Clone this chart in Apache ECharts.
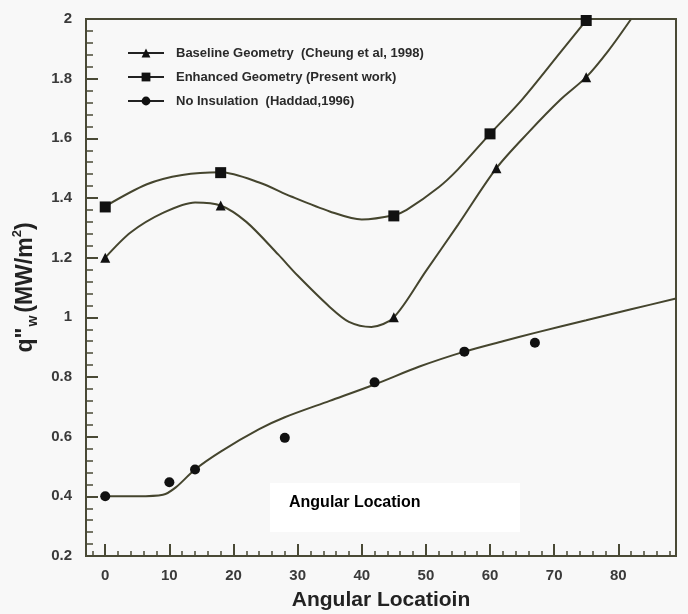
<!DOCTYPE html>
<html>
<head>
<meta charset="utf-8">
<script src="https://cdn.jsdelivr.net/npm/echarts@6/dist/echarts.min.js"></script>
<style>
  html, body { margin: 0; padding: 0; background: #f8f8f8; }
  #chart { width: 688px; height: 614px; }
</style>
</head>
<body>
<div id="chart"></div>
<script>
// 图例名称
const seriesNames = [
  'Baseline Geometry  (Cheung et al, 1998)',
  'Enhanced Geometry (Present work)',
  'No Insulation  (Haddad,1996)'
]

// 标记点
const baselineX = [0, 18, 45, 61, 75]
const baselineY = [1.2, 1.375, 1.0, 1.5, 1.805]
const enhancedX = [0, 18, 45, 60, 75]
const enhancedY = [1.37, 1.485, 1.34, 1.615, 1.995]
const noInsX = [0, 10, 14, 28, 42, 56, 67]
const noInsY = [0.4, 0.447, 0.49, 0.596, 0.782, 0.885, 0.915]

// 拟合曲线（沿曲线读图）
const baselineCurveX = [0, 4, 9, 14, 18, 22, 27, 30, 35, 38, 41.5, 45, 50, 55, 61, 66, 71, 75, 78.5, 82]
const baselineCurveY = [1.2, 1.285, 1.35, 1.385, 1.375, 1.32, 1.21, 1.14, 1.035, 0.985, 0.968, 1.0, 1.155, 1.31, 1.5, 1.62, 1.73, 1.805, 1.895, 2.0]
const enhancedCurveX = [0, 6.5, 12, 18, 24, 29, 35, 40, 45, 47, 52, 55, 60, 65, 71, 75]
const enhancedCurveY = [1.372, 1.446, 1.477, 1.486, 1.452, 1.405, 1.355, 1.328, 1.342, 1.36, 1.436, 1.496, 1.615, 1.73, 1.889, 1.995]
const noInsCurveX = [0, 5, 9, 11, 14, 18, 24, 28, 35, 42, 49, 56, 62, 67, 75, 82, 89]
const noInsCurveY = [0.4, 0.4, 0.405, 0.43, 0.49, 0.55, 0.625, 0.665, 0.72, 0.775, 0.835, 0.885, 0.92, 0.948, 0.99, 1.027, 1.063]

const pairs = (xs, ys) => xs.map((x, i) => [x, ys[i]])

const axisColor = '#4a4a36'
const curveColor = '#45452e'
const markColor = '#111'
const font = 'Liberation Sans, Arial, sans-serif'

const myChart = echarts.init(document.getElementById('chart'))

const curve = (xs, ys) => ({
  type: 'line',
  data: pairs(xs, ys),
  symbol: 'none',
  smooth: 0.3,
  lineStyle: { color: curveColor, width: 2 },
  silent: true,
  z: 2
})

const marks = (name, xs, ys, symbol, size) => ({
  name,
  type: 'line',
  data: pairs(xs, ys),
  symbol,
  symbolSize: size,
  showSymbol: true,
  itemStyle: { color: markColor },
  lineStyle: { opacity: 0 },
  silent: true,
  z: 3
})

const option = {
  backgroundColor: '#f8f8f8',
  animation: false,
  grid: {
    left: 86, right: 12, top: 19, bottom: 58,
    outerBoundsMode: 'none',
    show: true,
    borderColor: axisColor,
    borderWidth: 2,
    backgroundColor: 'transparent'
  },
  legend: {
    data: seriesNames,
    orient: 'vertical',
    left: 122,
    top: 41,
    itemWidth: 36,
    itemHeight: 11,
    itemGap: 10,
    lineStyle: { color: '#222', width: 2, opacity: 1 },
    textStyle: { fontSize: 13, lineHeight: 14, fontWeight: 'bold', color: '#2a2a2a', fontFamily: font, padding: [0, 0, 0, 7] }
  },
  xAxis: {
    type: 'value',
    min: -3,
    max: 89,
    splitNumber: 9,
    minInterval: 10,
    maxInterval: 10,
    splitLine: { show: false },
    axisLine: { onZero: false, lineStyle: { color: axisColor, width: 2 } },
    axisTick: { inside: true, length: 12, lineStyle: { color: axisColor, width: 2 } },
    minorTick: { show: true, splitNumber: 5, length: 5, lineStyle: { color: axisColor, width: 1.5 } },
    axisLabel: { showMinLabel: false, showMaxLabel: false, margin: 12, fontSize: 15, fontWeight: 'bold', color: '#3a3a3a', fontFamily: font },
    name: 'Angular Locatioin',
    nameLocation: 'middle',
    nameGap: 34,
    nameTextStyle: { fontSize: 21, fontWeight: 'bold', color: '#222', fontFamily: font }
  },
  yAxis: {
    type: 'value',
    min: 0.2,
    max: 2,
    interval: 0.2,
    splitLine: { show: false },
    axisLine: { onZero: false, lineStyle: { color: axisColor, width: 2 } },
    axisTick: { inside: true, length: 12, lineStyle: { color: axisColor, width: 2 } },
    minorTick: { show: true, splitNumber: 5, length: 7, lineStyle: { color: axisColor, width: 1.5 } },
    axisLabel: { margin: 14, fontSize: 15, fontWeight: 'bold', color: '#3a3a3a', fontFamily: font },
    name: '{a|q"}{b|w}{a|(MW/m}{c|2}{a|)}',
    nameLocation: 'middle',
    nameRotate: 90,
    nameGap: 42,
    nameTextStyle: {
      rich: {
        a: { fontSize: 23, fontWeight: 'bold', color: '#222', fontFamily: font, lineHeight: 26 },
        b: { fontSize: 14, fontWeight: 'bold', color: '#222', fontFamily: font, lineHeight: 16, padding: [16, 3, 0, 1] },
        c: { fontSize: 13, fontWeight: 'bold', color: '#222', fontFamily: font, lineHeight: 16, padding: [0, 0, 16, 0] }
      }
    }
  },
  graphic: [
    {
      type: 'rect',
      left: 270, top: 483,
      shape: { width: 250, height: 49 },
      style: { fill: '#fff' },
      z: 1
    },
    {
      type: 'text',
      left: 289, top: 495,
      style: { text: 'Angular Location', font: 'bold 16px ' + font, fill: '#000' },
      z: 2
    }
  ],
  series: [
    curve(baselineCurveX, baselineCurveY),
    curve(enhancedCurveX, enhancedCurveY),
    curve(noInsCurveX, noInsCurveY),
    marks(seriesNames[0], baselineX, baselineY, 'triangle', 10),
    marks(seriesNames[1], enhancedX, enhancedY, 'rect', 11),
    marks(seriesNames[2], noInsX, noInsY, 'circle', 10)
  ]
}

myChart.setOption(option)
window.addEventListener('resize', () => {
  myChart.resize()
})
</script>
</body>
</html>
